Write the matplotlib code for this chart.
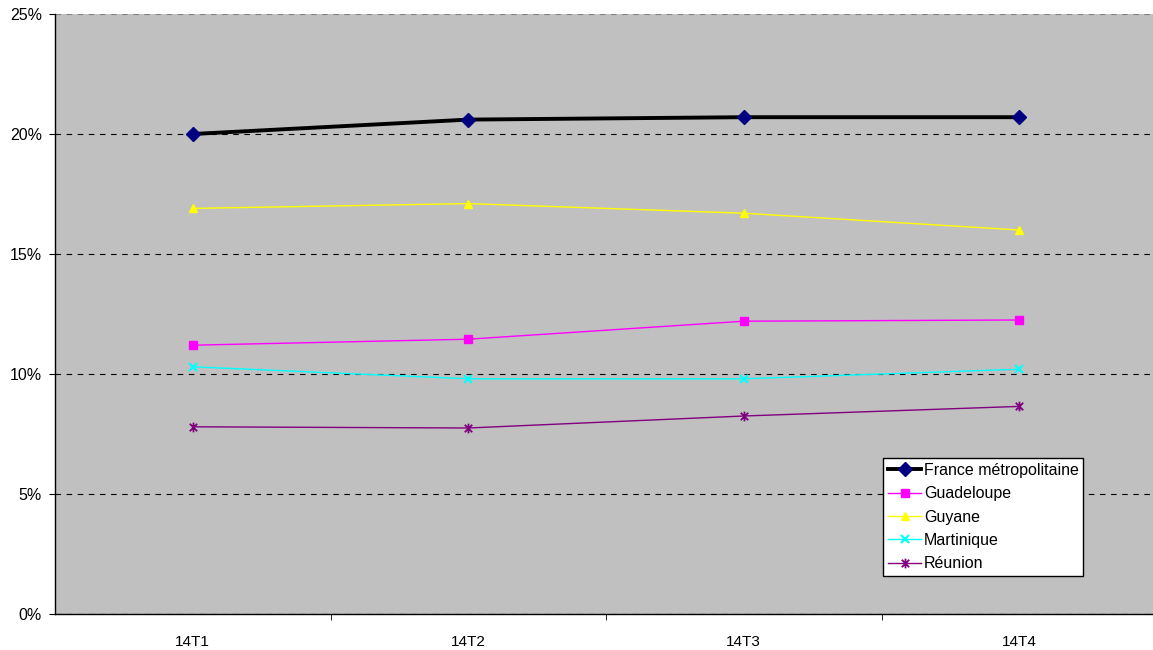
import matplotlib
matplotlib.use("Agg")
import matplotlib.pyplot as plt
from matplotlib.path import Path
from matplotlib.ticker import FixedLocator, PercentFormatter

plt.rcParams['font.family'] = ['Liberation Sans', 'DejaVu Sans']

quarters = ["14T1", "14T2", "14T3", "14T4"]
france = [20.0, 20.6, 20.7, 20.7]
guadeloupe = [11.2, 11.45, 12.2, 12.25]
guyane = [16.9, 17.1, 16.7, 16.0]
martinique = [10.3, 9.8, 9.8, 10.2]
reunion = [7.8, 7.75, 8.25, 8.65]

# asterisk marker: an "x" crossed by a vertical bar
asterisk = Path(
    [(-1, -1), (1, 1), (-1, 1), (1, -1), (0, -1.3), (0, 1.3)],
    [Path.MOVETO, Path.LINETO, Path.MOVETO, Path.LINETO, Path.MOVETO, Path.LINETO],
)

fig = plt.figure(figsize=(11.53, 6.5), dpi=100)
ax = fig.add_axes([55 / 1153, 1 - 614 / 650, 1102 / 1153, 600 / 650])
ax.set_facecolor("#C0C0C0")

x = range(len(quarters))
ax.plot(x, france, color="black", lw=2.8, marker="D", ms=7,
        mfc="#000080", mec="#000080", label="France métropolitaine", zorder=5)
ax.plot(x, guadeloupe, color="#FF00FF", lw=1.0, marker="s", ms=6,
        mfc="#FF00FF", mec="#FF00FF", label="Guadeloupe", zorder=4)
ax.plot(x, guyane, color="#FFFF00", lw=1.0, marker="^", ms=6,
        mfc="#FFFF00", mec="#FFFF00", label="Guyane", zorder=4)
ax.plot(x, martinique, color="#00FFFF", lw=1.0, marker="x", ms=6, mew=1.5,
        mfc="#00FFFF", mec="#00FFFF", label="Martinique", zorder=4)
ax.plot(x, reunion, color="#800080", lw=1.0, marker=asterisk, ms=7, mew=1.3,
        mfc="#800080", mec="#800080", label="Réunion", zorder=4)

ax.set_xlim(-0.5, len(quarters) - 0.5)
ax.set_ylim(0, 25)
ax.set_xticks(list(x))
ax.set_xticklabels(quarters)
ax.xaxis.set_minor_locator(FixedLocator([0.5, 1.5, 2.5]))
ax.tick_params(axis="x", which="major", length=0, pad=15, labelsize=11)
ax.tick_params(axis="x", which="minor", length=4.5, direction="out", color="black")
ax.set_yticks([0, 5, 10, 15, 20, 25])
ax.yaxis.set_major_formatter(PercentFormatter(decimals=0))
ax.tick_params(axis="y", length=4.5, direction="out", labelsize=11.5, pad=5)

ax.yaxis.grid(True, color="black", linestyle=(0, (5, 5)), lw=0.8)
ax.get_ygridlines()[-1].set_color("0.5")
ax.set_axisbelow(True)

for side in ("top", "right"):
    ax.spines[side].set_visible(False)
for side in ("left", "bottom"):
    ax.spines[side].set_color("black")
    ax.spines[side].set_linewidth(1.0)

leg = ax.legend(loc="lower left", bbox_to_anchor=(0.7514, 0.0633),
                fontsize=11.5, frameon=True, fancybox=False,
                handlelength=2.1, handletextpad=0.15, borderpad=0.3,
                labelspacing=0.52, borderaxespad=0)
leg.get_frame().set_edgecolor("black")
leg.get_frame().set_linewidth(1.0)
leg.get_frame().set_facecolor("white")
leg.get_frame().set_alpha(1)

fig.savefig("out.png", dpi=100)
